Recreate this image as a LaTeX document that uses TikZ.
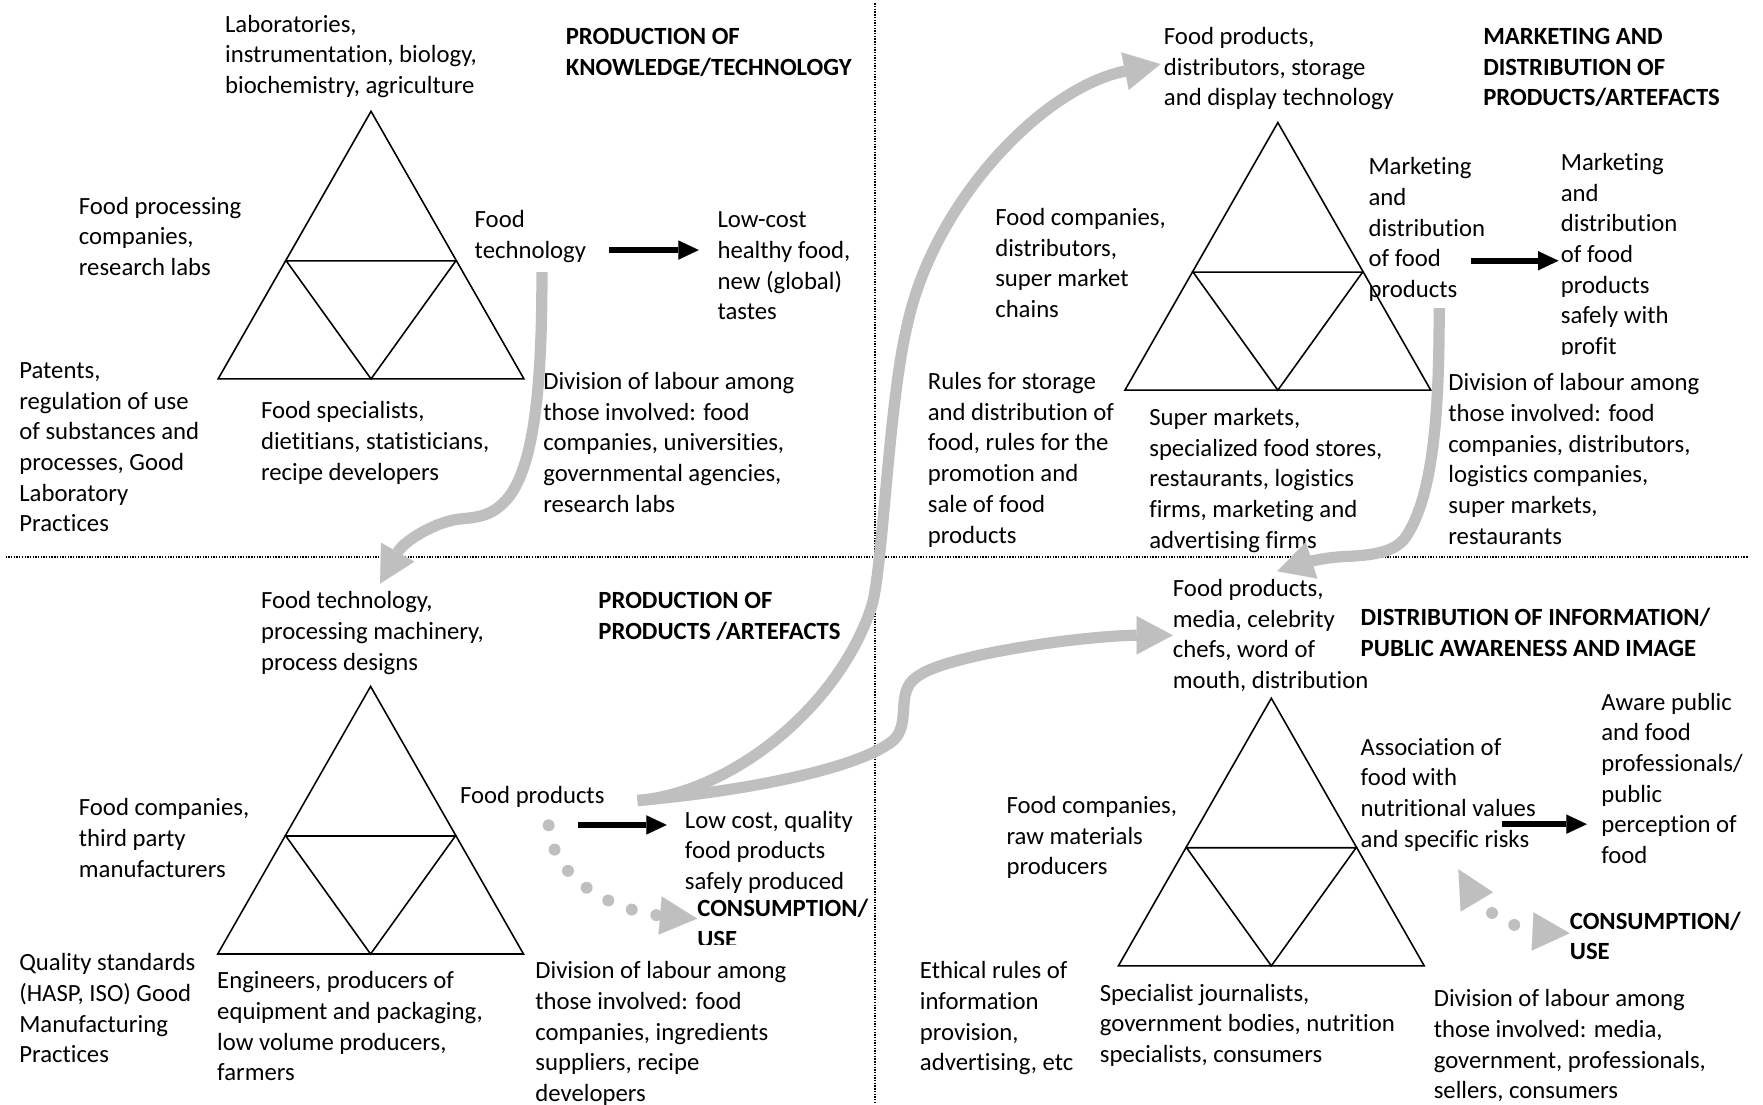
\documentclass[tikz,border=0pt]{standalone}
\usepackage{fontspec}
\setmainfont{Carlito}[Ligatures=NoCommon]
\usetikzlibrary{arrows.meta}
\definecolor{arrowgray}{RGB}{191,191,191}
\begin{document}
\begin{tikzpicture}[x=1pt,y=-1pt,
  txt/.style={anchor=base west, inner sep=0pt, align=left, font=\fontsize{22}{27.3}\selectfont},
  ttl/.style={txt, font=\fontsize{22}{27.3}\selectfont\bfseries},
  tri/.style={line width=1.4pt, line join=miter},
  divider/.style={line width=1.6pt, dash pattern=on 1.2pt off 1.2pt},
  garrow/.style={draw=arrowgray, line width=10pt, -{Triangle[length=32pt,width=34pt,line width=0.01pt]}},
  gdots/.style={draw=arrowgray, line width=10.6pt, line cap=round, dash pattern=on 0pt off 22.4pt, -{Triangle[length=33pt,width=34pt,line width=0.01pt]}},
  barrow/.style={draw=black, line width=5.5pt, -{Triangle[length=18pt,width=17pt,line width=0.01pt]}},
  tripic/.pic={
    \draw[tri] (0,0) -- (-136,238) -- (136,238) -- cycle;
    \draw[tri] (-75.4,133) -- (75.4,133) -- (0,238) -- cycle;
  }
]
\useasboundingbox (0,0) rectangle (1568,982);
\fill[white] (0,0) rectangle (1568,982);

% dividers
\draw[divider] (5,495.4) -- (1555,495.4);
\draw[divider] (778,3) -- (778,982);

% triangles
\pic at (330,99) {tripic};
\pic at (1136.5,109) {tripic};
\pic at (329.6,610.5) {tripic};
\pic at (1130.7,621) {tripic};

% (node anchors are at the baseline of the LAST line: first baseline + (lines-1)*27.3)
% ---------- top left ----------
\node[txt] (lab) at (200,28.5+2*27.3) {Laboratories,\\instrumentation, biology,\\biochemistry, agriculture};
\node[ttl] (t1) at (503,39.5+1*27.3) {PRODUCTION OF\\KNOWLEDGE/TECHNOLOGY};
\node[txt] (fpc) at (70,190.5+2*27.3) {Food processing\\companies,\\research labs};
\node[txt] (ftech) at (422,202.5+1*27.3) {Food\\technology};
\node[txt] (lowc) at (638,202.5+3*27.3) {Low-cost\\healthy food,\\new (global)\\tastes};
\node[txt] (pat) at (17,336.5+5*27.3) {Patents,\\regulation of use\\of substances and\\processes, Good\\Laboratory\\Practices};
\node[txt] (fspec) at (232,372.5+2*27.3) {Food specialists,\\dietitians, statisticians,\\recipe developers};
\node[txt] (div1) at (483,346.5+4*27.3) {Division of labour among\\those involved: food\\companies, universities,\\governmental agencies,\\research labs};

% ---------- top right ----------
\node[txt] (fpd) at (1035,39.5+2*27.3) {Food products,\\distributors, storage\\and display technology};
\node[ttl] (t2) at (1319,39.5+2*27.3) {MARKETING AND\\DISTRIBUTION OF\\PRODUCTS/ARTEFACTS};
\node[txt] (mkt1) at (1217,155.5+4*27.3) {Marketing\\and\\distribution\\of food\\products};
\begin{scope}
\clip (1380,110) rectangle (1560,315);
\node[txt] (mkt2) at (1388,151.5+6*27.3) {Marketing\\and\\distribution\\of food\\products\\safely with\\profit};
\end{scope}
\node[txt] (fcd) at (885,200.5+3*27.3) {Food companies,\\distributors,\\super market\\chains};
\node[txt] (rules) at (825,346.5+5*27.3) {Rules for storage\\and distribution of\\food, rules for the\\promotion and\\sale of food\\products};
\node[txt] (supm) at (1022,378.5+4*27.3) {Super markets,\\specialized food stores,\\restaurants, logistics\\firms, marketing and\\advertising firms};
\node[txt] (div2) at (1288,347.5+5*27.3) {Division of labour among\\those involved: food\\companies, distributors,\\logistics companies,\\super markets,\\restaurants};

% ---------- bottom left ----------
\node[txt] (ftp) at (232,541.5+2*27.3) {Food technology,\\processing machinery,\\process designs};
\node[ttl] (t3) at (532,541.5+1*27.3) {PRODUCTION OF\\PRODUCTS /ARTEFACTS};
\node[txt] (fctp) at (70,725.5+2*27.3) {Food companies,\\third party\\manufacturers};
\node[txt] (fprod) at (409,714.5) {Food products};
\node[txt] (lcq) at (609,736.5+2*27.3) {Low cost, quality\\food products\\safely produced};
\begin{scope}
\clip (600,790) rectangle (776,840);
\node[ttl] (cons1) at (620,815.5+1*27.3) {CONSUMPTION/\\USE};
\end{scope}
\node[txt] (qual) at (17,863.5+3*27.3) {Quality standards\\(HASP, ISO) Good\\Manufacturing\\Practices};
\node[txt] (eng) at (193,879.5+3*27.3) {Engineers, producers of\\equipment and packaging,\\low volume producers,\\farmers};
\node[txt] (div3) at (476,870.5+4*27.3) {Division of labour among\\those involved: food\\companies, ingredients\\suppliers, recipe\\developers};

% ---------- bottom right ----------
\node[txt] (fpm) at (1043,530.5+3*27.3) {Food products,\\media, celebrity\\chefs, word of\\mouth, distribution};
\node[ttl] (t4) at (1210,556.5+1*27.3) {DISTRIBUTION OF INFORMATION/\\PUBLIC AWARENESS AND IMAGE};
\node[txt] (assoc) at (1210,671.5+3*27.3) {Association of\\food with\\nutritional values\\and specific risks};
\node[txt] (aware) at (1424,631.5+5*27.3) {Aware public\\and food\\professionals/\\public\\perception of\\food};
\node[txt] (fcr) at (895,723.5+2*27.3) {Food companies,\\raw materials\\producers};
\node[ttl] (cons2) at (1396,826.5+1*27.3) {CONSUMPTION/\\USE};
\node[txt] (eth) at (818,870.5+3*27.3) {Ethical rules of\\information\\provision,\\advertising, etc};
\node[txt] (sj) at (978,890.5+2*27.3) {Specialist journalists,\\government bodies, nutrition\\specialists, consumers};
\node[txt] (div4) at (1275,895.5+3*27.3) {Division of labour among\\those involved: media,\\government, professionals,\\sellers, consumers};

% ---------- connector end points ----------
\coordinate (a1s) at (482,242);
\coordinate (a1e) at (338,519);
\coordinate (a2s) at (1280,274);
\coordinate (a2e) at (1136,508);
\coordinate (fpout) at (567,712);
\coordinate (a3e) at (1032,57);
\coordinate (a4e) at (1043,565);
\coordinate (d1s) at (488,734);
\coordinate (d1e) at (620,817);
\coordinate (d2s) at (1327,812);
\coordinate (d2e) at (1396,830);

% black arrows
\draw[barrow] (541.5,222.4) -- (621.4,222.4);
\draw[barrow] (1308.4,231.9) -- (1386,231.9);
\draw[barrow] (514.4,733.7) -- (592.9,733.7);
\draw[barrow] (1336,733) -- (1411.2,733);

% gray arrows
\draw[garrow] (a1s) .. controls (482,340) and (476,420) .. (448,447)
   .. controls (436,459) and (425,460) .. (410,461.5)
   .. controls (390,463) and (360,480) .. (a1e);
\draw[garrow] (a2s) .. controls (1280,360) and (1276,440) .. (1250,478)
   .. controls (1240,492) and (1218,494) .. (1195,495)
   .. controls (1175,496) and (1155,502) .. (a2e);
\draw[garrow] (fpout) .. controls (650,705) and (745,630) .. (775,540)
   .. controls (785,510) and (790,360) .. (806.7,290)
   .. controls (830,180) and (927,78) .. (a3e);
\draw[garrow] (fpout) .. controls (680,702) and (770,680) .. (795,658)
   .. controls (808,645) and (800,625) .. (808,610)
   .. controls (815,597) and (840,590) .. (870,583)
   .. controls (930,570) and (990,565) .. (a4e);

% dotted gray arrows
\draw[gdots] (d1s) .. controls (492,790) and (560,812) .. (d1e);
\fill[arrowgray] (1297,773) -- (1328,793.6) -- (1299,810.8) -- cycle;
\draw[gdots] (d2s) .. controls (1340,819) and (1355,828) .. (d2e);
\end{tikzpicture}
\end{document}
